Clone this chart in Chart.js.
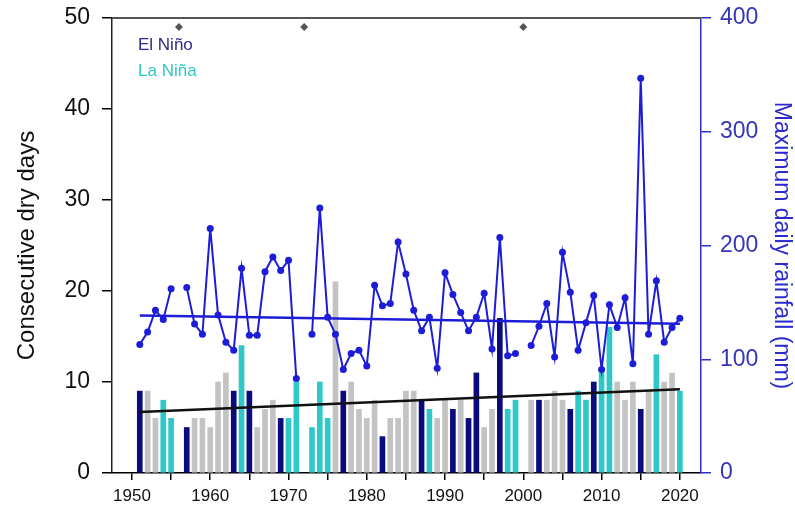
<!DOCTYPE html>
<html>
<head>
<meta charset="utf-8">
<script src="https://cdn.jsdelivr.net/npm/chart.js@4.4.1/dist/chart.umd.min.js"></script>
<style>
  html, body { margin: 0; padding: 0; background: #fff; }
  #wrap { width: 795px; height: 513px; }
</style>
</head>
<body>
<div id="wrap"><canvas id="chart"></canvas></div>
<script>
// data
const years = [];
for (let y = 1951; y <= 2020; y++) years.push(y);

// N = El Nino, L = La Nina, G = neutral, null = no data
const enso = [
  'N','G','G','L','L',null,'N','G','G','G', // 1951-1960
  'G','G','N','L','N','G','G','G','N','L', // 1961-1970
  'L',null,'L','L','L','G','N','G','G','G', // 1971-1980
  'G','N','G','G','G','G','N','L','G','G', // 1981-1990
  'N','G','N','N','G','G','N','L','L',null, // 1991-2000
  'G','N','G','G','G','N','L','L','N','L', // 2001-2010
  'L','G','G','G','N','G','L','G','G','L'  // 2011-2020
];
const dryDays = [
  9, 9, 6, 8, 6, null, 5, 6, 6, 5,
  10, 11, 9, 14, 9, 5, 7, 8, 6, 6,
  10, null, 5, 10, 6, 21, 9, 10, 7, 6,
  8, 4, 6, 6, 9, 9, 8, 7, 6, 8,
  7, 8, 6, 11, 5, 7, 17, 7, 8, null,
  8, 8, 8, 9, 8, 7, 9, 8, 10, 11,
  16, 10, 8, 10, 7, 9, 13, 10, 11, 9
];
const maxRain = [
  113, 124, 143, 135, 162, null, 163, 131, 122, 215,
  139, 115, 108, 180, 121, 121, 177, 190, 178, 187,
  83, null, 122, 233, 137, 122, 91, 105, 108, 94,
  165, 147, 149, 203, 175, 143, 125, 137, 92, 176,
  157, 141, 125, 137, 158, 109, 207, 103, 105, null,
  112, 129, 149, 102, 194, 159, 108, 132, 156, 91,
  148, 128, 154, 96, 347, 122, 169, 115, 128, 136
];
const missingYears = [1956, 1972, 2000];
const dryTrend = [[1951, 6.7], [2020, 9.2]];
const rainTrend = [[1951, 138.5], [2020, 131.3]];
const xTickValues = [1950, 1955, 1960, 1965, 1970, 1975, 1980, 1985, 1990, 1995, 2000, 2005, 2010, 2015, 2020];

const navy = '#0b0b7e';
const cyan = '#2fc8c8';
const grey = '#c3c3c3';
const blue = '#1d1dd8';
const axisBlue = '#2f2fc8';
const FONT = "'Liberation Sans', Arial, Helvetica, sans-serif";

function barsOf(kind) {
  const out = [];
  years.forEach((y, i) => {
    if (enso[i] === kind) out.push({ x: y, y: dryDays[i] });
  });
  return out;
}

const rainPoints = years.map((y, i) => ({ x: y, y: maxRain[i] }));

const barBase = { type: 'bar', yAxisID: 'y', barThickness: 5, grouped: false, borderWidth: 0, order: 5 };

// fixed box sizes so the plot area lands where the figure has it
function fixWidth(w) {
  return s => { s.width = w; s.paddingTop = 0; s.paddingBottom = 0; };
}

// top frame line + legend text
const extras = {
  id: 'extras',
  afterDatasetsDraw(chart) {
    const { ctx, chartArea } = chart;
    ctx.save();
    ctx.strokeStyle = '#555';
    ctx.lineWidth = 2;
    ctx.beginPath();
    ctx.moveTo(chartArea.left, chartArea.top);
    ctx.lineTo(chartArea.right, chartArea.top);
    ctx.stroke();
    ctx.font = '17px ' + FONT;
    ctx.textBaseline = 'middle';
    ctx.fillStyle = '#2b2b86';
    ctx.fillText('El Niño', chartArea.left + 26, chartArea.top + 27);
    ctx.fillStyle = cyan;
    ctx.fillText('La Niña', chartArea.left + 26, chartArea.top + 53);
    ctx.restore();
  }
};

const ctx = document.getElementById('chart').getContext('2d');
const chart = new Chart(ctx, {
  data: {
    datasets: [
      { ...barBase, label: 'Neutral', data: barsOf('G'), backgroundColor: grey },
      { ...barBase, label: 'El Niño', data: barsOf('N'), backgroundColor: navy },
      { ...barBase, label: 'La Niña', data: barsOf('L'), backgroundColor: cyan },
      {
        type: 'line', label: 'CDD trend', yAxisID: 'y', order: 2,
        data: dryTrend.map(p => ({ x: p[0], y: p[1] })),
        borderColor: '#111', borderWidth: 2.5, pointRadius: 0
      },
      {
        type: 'line', label: 'Rx1day trend', yAxisID: 'y2', order: 1,
        data: rainTrend.map(p => ({ x: p[0], y: p[1] })),
        borderColor: blue, borderWidth: 2.5, pointRadius: 0
      },
      {
        type: 'line', label: 'Max daily rainfall', yAxisID: 'y2', order: 0,
        data: rainPoints, spanGaps: false,
        borderColor: blue, borderWidth: 2, tension: 0,
        pointRadius: 3.5, pointBackgroundColor: blue, pointBorderWidth: 0
      },
      {
        type: 'scatter', label: 'missing', yAxisID: 'y', order: 0,
        data: missingYears.map(y => ({ x: y, y: 49 })),
        pointStyle: 'rectRot', pointRadius: 4, backgroundColor: '#555', borderWidth: 0
      }
    ]
  },
  options: {
    responsive: true,
    maintainAspectRatio: false,
    animation: false,
    layout: { padding: { top: 18, left: 0, right: 0, bottom: 0 } },
    plugins: {
      legend: { display: false },
      tooltip: { enabled: false }
    },
    scales: {
      x: {
        type: 'linear',
        offset: false,
        min: 1947.45,
        max: 2022.7,
        afterBuildTicks: axis => { axis.ticks = xTickValues.map(v => ({ value: v })); },
        afterFit: s => { s.height = 40; s.paddingLeft = 0; s.paddingRight = 0; },
        grid: { drawOnChartArea: false, offset: false, tickLength: 7, color: '#000', lineWidth: 1.5 },
        border: { color: '#000', width: 1.5 },
        ticks: {
          color: '#111', padding: 6, maxRotation: 0, autoSkip: false,
          font: { family: FONT, size: 17 },
          callback: v => (v % 10 === 0 ? String(v) : '')
        }
      },
      y: {
        position: 'left',
        min: 0, max: 50,
        afterFit: fixWidth(112),
        grid: { drawOnChartArea: false, tickLength: 10, color: '#000', lineWidth: 1.5 },
        border: { color: '#222', width: 1.5 },
        ticks: { stepSize: 10, color: '#111', padding: 12, font: { family: FONT, size: 23 } },
        title: {
          display: true, text: 'Consecutive dry days', color: '#111',
          font: { family: FONT, size: 24 }, padding: { top: 13, bottom: 0 }
        }
      },
      y2: {
        position: 'right',
        min: 0, max: 400,
        afterFit: fixWidth(94),
        grid: { drawOnChartArea: false, tickLength: 10, color: axisBlue, lineWidth: 1.5 },
        border: { color: axisBlue, width: 1.5 },
        ticks: { stepSize: 100, color: '#3535b8', padding: 9, font: { family: FONT, size: 23 } },
        title: {
          display: true, text: 'Maximum daily rainfall (mm)', color: '#2a2ad0',
          font: { family: FONT, size: 23 }, padding: { top: 0, bottom: 0 }
        }
      }
    }
  },
  plugins: [extras]
});
</script>
</body>
</html>
